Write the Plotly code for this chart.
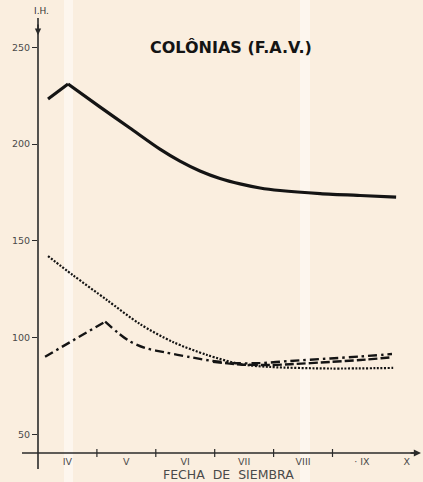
import plotly.graph_objects as go

# Sowing date as a continuous month number (4 = start of April ... 10 = October)
month_labels = ["IV", "V", "VI", "VII", "VIII", "· IX", "X"]
month_label_pos = [4.5, 5.5, 6.5, 7.5, 8.5, 9.5, 10.26]
month_bounds = [5, 6, 7, 8, 9]

y_ticks = [50, 100, 150, 200, 250]
y_tick_text = ["50", "100", "150", "200", "250"]

# Solid curve: linear rise to the peak, then smooth decline
solid_x = [4.17, 4.51, 5.05, 5.56, 6.07, 6.41, 6.75, 7.09, 7.43, 7.77, 8.11, 8.79, 9.47, 10.08]
solid_y = [223.3, 231.0, 219.2, 208.3, 197.4, 191.2, 186.1, 182.2, 179.4, 177.3, 176.0, 174.4, 173.4, 172.6]
solid_peak = 1

# Dotted curve
dot_x = [4.17, 4.59, 5.17, 5.73, 6.29, 6.87, 7.43, 7.94, 8.96, 10.03]
dot_y = [142.1, 132.3, 119.4, 107.0, 97.7, 91.0, 86.3, 84.8, 84.0, 84.3]

# Dash-dot curve: linear rise to the peak, then smooth decline
dd_x = [4.12, 5.14, 5.36, 5.56, 5.82, 6.16, 6.58, 6.92, 7.31, 7.77, 8.28, 8.96, 9.47, 10.01]
dd_y = [90.1, 108.2, 102.4, 98.0, 94.6, 92.3, 89.9, 88.1, 86.8, 86.8, 87.9, 89.2, 90.2, 91.5]
dd_peak = 1

# Long-dash curve
ld_x = [6.97, 7.43, 7.94, 8.28, 8.96, 9.47, 10.01]
ld_y = [87.4, 86.1, 85.8, 86.2, 87.4, 88.4, 89.8]

INK = "#141414"
PAPER = "#FAEEDF"
GREY = "#4a4a4a"

fig = go.Figure()


def add_curve(xs, ys, dash, width, peak=None):
    if peak is not None:
        fig.add_trace(go.Scatter(x=xs[:peak + 1], y=ys[:peak + 1], mode="lines",
                                 line=dict(color=INK, width=width, dash=dash),
                                 hoverinfo="skip", showlegend=False))
        xs, ys = xs[peak:], ys[peak:]
    fig.add_trace(go.Scatter(x=xs, y=ys, mode="lines",
                             line=dict(color=INK, width=width, dash=dash,
                                       shape="spline", smoothing=0.8),
                             hoverinfo="skip", showlegend=False))


add_curve(solid_x, solid_y, "solid", 3.2, solid_peak)
add_curve(dot_x, dot_y, "2px,1.6px", 2.2)
add_curve(dd_x, dd_y, "9px,4px,2.5px,4px", 2.4, dd_peak)
add_curve(ld_x, ld_y, "9px,3px", 2.4)

# Plot area: px 38..410 horizontally, px 20..453 vertically
W, H = 423, 482
L, R, T, B = 38, 13, 20, 29
pw, ph = W - L - R, H - T - B


def px_x(p):
    return (p - L) / pw


def px_y(p):
    return (H - B - p) / ph


shapes = []
# faint lighter bands in the paper
for x0, x1 in [(64, 73), (300, 310)]:
    shapes.append(dict(type="rect", xref="paper", yref="paper",
                       x0=px_x(x0), x1=px_x(x1), y0=px_y(H), y1=px_y(0),
                       fillcolor="#FDF6EE", line=dict(width=0), layer="below"))
# axes
shapes.append(dict(type="line", xref="paper", yref="paper",
                   x0=0, x1=0, y0=px_y(469), y1=px_y(18),
                   line=dict(color="#2a2a2a", width=1.6)))
shapes.append(dict(type="line", xref="paper", yref="paper",
                   x0=px_x(22), x1=px_x(418), y0=0, y1=0,
                   line=dict(color="#2a2a2a", width=1.4)))
# month boundary ticks on the x axis
for b in month_bounds:
    shapes.append(dict(type="line", xref="x", yref="paper",
                       x0=b, x1=b, y0=px_y(457), y1=px_y(449),
                       line=dict(color="#2a2a2a", width=1.2)))

annotations = [
    dict(text="<b>COLÔNIAS (F.A.V.)</b>", xref="paper", yref="paper",
         x=px_x(231), y=px_y(47), xanchor="center", yanchor="middle",
         showarrow=False,
         font=dict(family="DejaVu Sans", size=16, color=INK)),
    dict(text="FECHA  DE  SIEMBRA", xref="paper", yref="paper",
         x=px_x(228), y=px_y(474), xanchor="center", yanchor="middle",
         showarrow=False,
         font=dict(family="DejaVu Sans", size=12.5, color=GREY)),
    dict(text="I.H.", xref="paper", yref="paper",
         x=px_x(41), y=px_y(11), xanchor="center", yanchor="middle",
         showarrow=False,
         font=dict(family="DejaVu Sans", size=9, color="#333")),
    # arrowheads on the axes
    dict(xref="paper", yref="paper", x=px_x(421), y=0, ax=-12, ay=0,
         showarrow=True, arrowhead=2, arrowsize=0.9, arrowwidth=1.6,
         arrowcolor="#2a2a2a", text=""),
    dict(xref="paper", yref="paper", x=0, y=px_y(35), ax=0, ay=-12,
         showarrow=True, arrowhead=2, arrowsize=0.8, arrowwidth=1.6,
         arrowcolor="#2a2a2a", text=""),
]

fig.update_layout(
    width=W, height=H,
    margin=dict(l=L, r=R, t=T, b=B, pad=0),
    paper_bgcolor=PAPER, plot_bgcolor=PAPER,
    shapes=shapes, annotations=annotations,
    xaxis=dict(range=[4, 4 + pw / 58.9], showgrid=False, zeroline=False,
               showline=False, tickmode="array", tickvals=month_label_pos,
               ticktext=month_labels, ticks="", ticklabelstandoff=1,
               tickfont=dict(family="DejaVu Sans", size=9.5, color=GREY)),
    yaxis=dict(range=[250 - (H - B - 47.3) / 1.935, 250 + (47.3 - T) / 1.935],
               showgrid=False, zeroline=False, showline=False,
               tickmode="array", tickvals=y_ticks, ticktext=y_tick_text,
               ticks="outside", ticklen=5, tickwidth=1.2, tickcolor="#2a2a2a",
               tickfont=dict(family="DejaVu Sans", size=9.5, color=GREY)),
)

fig.write_html("out.html")
